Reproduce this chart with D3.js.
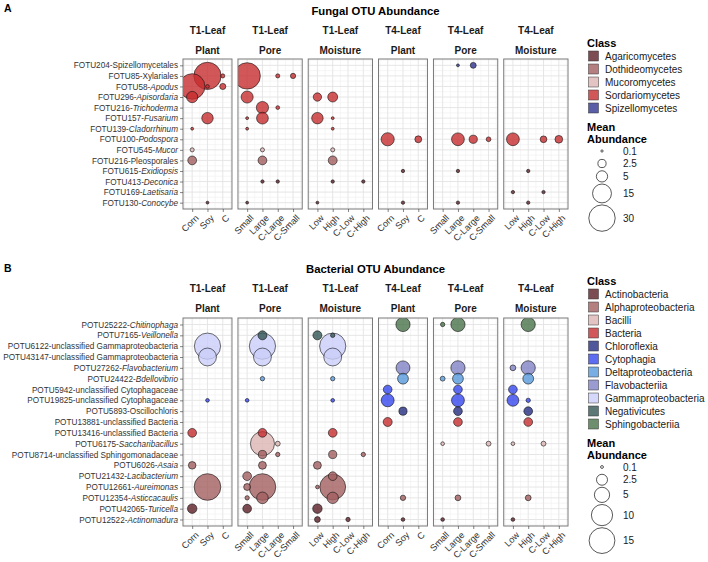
<!DOCTYPE html>
<html><head><meta charset="utf-8">
<script src="https://cdn.jsdelivr.net/npm/d3@7"></script>
<style>
body{margin:0;background:#fff;}
svg{font-family:"Liberation Sans",Arial,Helvetica,sans-serif;}
</style>
</head><body>
<svg id="c" width="708" height="562"></svg>
<script>
// ---------------- DATA ----------------
const plantLevels = ["Corn","Soy","C"];
const poreLevels = ["Small","Large","C-Large","C-Small"];
const moistureLevels = ["Low","High","C-Low","C-High"];
const timeLabels = ["T1-Leaf","T1-Leaf","T1-Leaf","T4-Leaf","T4-Leaf","T4-Leaf"];
const factorLabels = ["Plant","Pore","Moisture","Plant","Pore","Moisture"];
const facetLevels = [plantLevels, poreLevels, moistureLevels, plantLevels, poreLevels, moistureLevels];

// Fungal OTUs (top to bottom); italic flag marks genus names
const fungalOTUs = ["FOTU204-Spizellomycetales","FOTU85-Xylariales","FOTU58-Apodus","FOTU296-Apisordaria",
  "FOTU216-Trichoderma","FOTU157-Fusarium","FOTU139-Cladorrhinum","FOTU100-Podospora","FOTU545-Mucor",
  "FOTU216-Pleosporales","FOTU615-Exidiopsis","FOTU413-Deconica","FOTU169-Laetisaria","FOTU130-Conocybe"];
const fungalItalic = [false,false,true,true,true,true,true,true,true,false,true,true,true,true];
const fungalClassOf = ["Spizellomycetes","Sordariomycetes","Sordariomycetes","Sordariomycetes","Sordariomycetes",
  "Sordariomycetes","Sordariomycetes","Sordariomycetes","Mucoromycetes","Dothideomycetes","Agaricomycetes",
  "Agaricomycetes","Agaricomycetes","Agaricomycetes"];
const fungalClasses = ["Agaricomycetes","Dothideomycetes","Mucoromycetes","Sordariomycetes","Spizellomycetes"];
const fungalColors = ["#5d1f27","#a25f60","#ddb4b4","#c72d2e","#313690"];
const fungalSizeBreaks = [0.1,2.5,5,15,30];

const fungalT1Plant = [["FOTU85-Xylariales","Soy",32],["FOTU85-Xylariales","C",0.5],["FOTU58-Apodus","Corn",28],
  ["FOTU58-Apodus","Soy",0.4],["FOTU58-Apodus","C",1.3],["FOTU296-Apisordaria","Corn",5],["FOTU157-Fusarium","Soy",5.2],
  ["FOTU139-Cladorrhinum","Corn",0.2],["FOTU545-Mucor","Corn",0.5],["FOTU216-Pleosporales","Corn",2.9],
  ["FOTU130-Conocybe","Soy",0.2]];
const fungalT1Pore = [["FOTU85-Xylariales","Small",30],["FOTU85-Xylariales","C-Large",0.5],["FOTU85-Xylariales","C-Small",0.9],
  ["FOTU296-Apisordaria","Small",5.8],["FOTU216-Trichoderma","Large",6],["FOTU216-Trichoderma","C-Large",0.4],
  ["FOTU157-Fusarium","Small",0.2],["FOTU157-Fusarium","Large",5.5],["FOTU139-Cladorrhinum","Small",0.2],
  ["FOTU545-Mucor","Large",0.5],["FOTU216-Pleosporales","Large",2.9],["FOTU413-Deconica","Large",0.3],
  ["FOTU413-Deconica","C-Large",0.3],["FOTU130-Conocybe","Small",0.2]];
const fungalT1Moisture = [["FOTU296-Apisordaria","Low",2.6],["FOTU296-Apisordaria","High",3.8],["FOTU157-Fusarium","Low",5.2],
  ["FOTU157-Fusarium","High",0.2],["FOTU139-Cladorrhinum","High",0.2],["FOTU545-Mucor","High",0.5],
  ["FOTU216-Pleosporales","High",3],["FOTU413-Deconica","High",0.3],["FOTU413-Deconica","C-High",0.3],
  ["FOTU130-Conocybe","Low",0.2]];
const fungalT4Plant = [["FOTU100-Podospora","Corn",7],["FOTU100-Podospora","C",1.7],["FOTU615-Exidiopsis","Soy",0.3],
  ["FOTU130-Conocybe","Soy",0.3]];
const fungalT4Pore = [["FOTU204-Spizellomycetales","Large",0.2],["FOTU204-Spizellomycetales","C-Large",1.2],
  ["FOTU100-Podospora","Large",6.6],["FOTU100-Podospora","C-Large",2.5],["FOTU100-Podospora","C-Small",0.7],
  ["FOTU615-Exidiopsis","Large",0.3],["FOTU130-Conocybe","Large",0.3]];
const fungalT4Moisture = [["FOTU100-Podospora","Low",6.6],["FOTU100-Podospora","C-Low",1.6],["FOTU100-Podospora","C-High",2.2],
  ["FOTU615-Exidiopsis","High",0.3],["FOTU169-Laetisaria","Low",0.3],["FOTU169-Laetisaria","C-Low",0.3],
  ["FOTU130-Conocybe","High",0.3]];

// Bacterial OTUs
const bactOTUs = ["POTU25222-Chitinophaga","POTU7165-Veillonella","POTU6122-unclassified Gammaproteobacteria",
  "POTU43147-unclassified Gammaproteobacteria","POTU27262-Flavobacterium","POTU24422-Bdellovibrio",
  "POTU5942-unclassified Cytophagaceae","POTU19825-unclassified Cytophagaceae","POTU5893-Oscillochloris",
  "POTU13881-unclassified Bacteria","POTU13416-unclassified Bacteria","POTU6175-Saccharibacillus",
  "POTU8714-unclassified Sphingomonadaceae","POTU6026-Asaia","POTU21432-Lacibacterium","POTU12661-Aureimonas",
  "POTU12354-Asticcacaulis","POTU42065-Turicella","POTU12522-Actinomadura"];
const bactItalic = [true,true,false,false,true,true,false,false,false,false,false,true,false,true,true,true,true,true,true];
const bactClassOf = ["Sphingobacteriia","Negativicutes","Gammaproteobacteria","Gammaproteobacteria","Flavobacteriia",
  "Deltaproteobacteria","Cytophagia","Cytophagia","Chloroflexia","Bacteria","Bacteria","Bacilli",
  "Alphaproteobacteria","Alphaproteobacteria","Alphaproteobacteria","Alphaproteobacteria","Alphaproteobacteria",
  "Actinobacteria","Actinobacteria"];
const bactClasses = ["Actinobacteria","Alphaproteobacteria","Bacilli","Bacteria","Chloroflexia","Cytophagia",
  "Deltaproteobacteria","Flavobacteriia","Gammaproteobacteria","Negativicutes","Sphingobacteriia"];
const bactColors = ["#5d1f27","#a25f60","#ddb4b4","#c72d2e","#242d81","#3647ef","#569adc","#8182c4","#caceF9","#325554","#4a734a"];
const bactSizeBreaks = [0.1,2.5,5,10,15];

const bactT1Plant = [["POTU6122-unclassified Gammaproteobacteria","Soy",15.5],["POTU43147-unclassified Gammaproteobacteria","Soy",7],
  ["POTU19825-unclassified Cytophagaceae","Soy",0.2],["POTU13416-unclassified Bacteria","Corn",1.5],
  ["POTU6026-Asaia","Corn",1.1],["POTU12661-Aureimonas","Soy",16],["POTU42065-Turicella","Corn",1.8]];
const bactT1Pore = [["POTU7165-Veillonella","Large",1.6],["POTU6122-unclassified Gammaproteobacteria","Large",15.5],
  ["POTU43147-unclassified Gammaproteobacteria","Large",7],["POTU24422-Bdellovibrio","Large",0.3],
  ["POTU19825-unclassified Cytophagaceae","Small",0.2],["POTU13416-unclassified Bacteria","Large",1.5],
  ["POTU6175-Saccharibacillus","Large",13],["POTU6175-Saccharibacillus","C-Large",0.4],
  ["POTU8714-unclassified Sphingomonadaceae","Large",1.3],["POTU8714-unclassified Sphingomonadaceae","C-Large",0.3],
  ["POTU6026-Asaia","Large",1.2],["POTU21432-Lacibacterium","Small",1.5],["POTU12661-Aureimonas","Small",0.9],
  ["POTU12661-Aureimonas","Large",16],["POTU12354-Asticcacaulis","Small",0.3],["POTU12354-Asticcacaulis","Large",2.8],
  ["POTU42065-Turicella","Small",1.5]];
const bactT1Moisture = [["POTU7165-Veillonella","Low",1.6],["POTU7165-Veillonella","High",0.3],
  ["POTU6122-unclassified Gammaproteobacteria","High",15.5],["POTU43147-unclassified Gammaproteobacteria","High",7],
  ["POTU24422-Bdellovibrio","High",0.3],["POTU19825-unclassified Cytophagaceae","High",0.2],
  ["POTU13416-unclassified Bacteria","High",1.5],["POTU8714-unclassified Sphingomonadaceae","High",1.3],
  ["POTU8714-unclassified Sphingomonadaceae","C-High",0.3],["POTU6026-Asaia","Low",1.2],
  ["POTU21432-Lacibacterium","High",1.5],["POTU12661-Aureimonas","Low",0.2],["POTU12661-Aureimonas","High",15],
  ["POTU12354-Asticcacaulis","High",2.7],["POTU42065-Turicella","Low",1.8],["POTU12522-Actinomadura","Low",0.6],
  ["POTU12522-Actinomadura","C-Low",0.3]];
const bactT4Plant = [["POTU25222-Chitinophaga","Soy",4.3],["POTU27262-Flavobacterium","Soy",4.1],
  ["POTU24422-Bdellovibrio","Soy",2.4],["POTU5942-unclassified Cytophagaceae","Corn",1.5],
  ["POTU19825-unclassified Cytophagaceae","Corn",3.5],["POTU5893-Oscillochloris","Soy",1.3],
  ["POTU13881-unclassified Bacteria","Corn",1.6],["POTU12354-Asticcacaulis","Soy",0.5],["POTU12522-Actinomadura","Soy",0.2]];
const bactT4Pore = [["POTU25222-Chitinophaga","Small",0.3],["POTU25222-Chitinophaga","Large",4.3],
  ["POTU27262-Flavobacterium","Large",4.3],["POTU24422-Bdellovibrio","Small",0.4],["POTU24422-Bdellovibrio","Large",2.4],
  ["POTU5942-unclassified Cytophagaceae","Large",1.5],["POTU19825-unclassified Cytophagaceae","Large",3.5],
  ["POTU5893-Oscillochloris","Large",1.5],["POTU13881-unclassified Bacteria","Large",1.5],
  ["POTU6175-Saccharibacillus","Small",0.2],["POTU6175-Saccharibacillus","C-Small",0.4],
  ["POTU12354-Asticcacaulis","Large",0.6],["POTU12522-Actinomadura","Small",0.2]];
const bactT4Moisture = [["POTU25222-Chitinophaga","High",4.3],["POTU27262-Flavobacterium","Low",0.6],
  ["POTU27262-Flavobacterium","High",4.3],["POTU24422-Bdellovibrio","High",2.4],
  ["POTU5942-unclassified Cytophagaceae","Low",1.5],["POTU19825-unclassified Cytophagaceae","Low",2.9],
  ["POTU19825-unclassified Cytophagaceae","High",0.3],["POTU5893-Oscillochloris","High",1.5],
  ["POTU13881-unclassified Bacteria","High",1.5],["POTU6175-Saccharibacillus","Low",0.2],
  ["POTU6175-Saccharibacillus","C-Low",0.4],["POTU12354-Asticcacaulis","High",0.6],["POTU12522-Actinomadura","Low",0.2]];

// ---------------- DRAWING ----------------
const svg = d3.select("#c");
svg.append("rect").attr("width",708).attr("height",562).attr("fill","#fff");
const layout = {left:183, right:568, gap:6};
const units = facetLevels.map(l => l.length - 1 + 1.2);
const unit = (layout.right - layout.left - layout.gap*5) / d3.sum(units);
let cursor = layout.left;
const facetX = units.map(n => { const a = cursor; cursor += n*unit + layout.gap; return [a, a + n*unit]; });
let clipId = 0;

function drawChart(o) {
  const g = svg.append("g");
  const y = d3.scalePoint().domain(o.otus).range([o.top, o.bottom]).padding(0.6);
  const r = d3.scaleSqrt().domain([0, o.sizeMax]).range([0, o.rMax]);
  const color = d3.scaleOrdinal().domain(o.classes).range(o.colors);
  const classOf = new Map(o.otus.map((d,i) => [d, o.classOf[i]]));

  // tag and title
  g.append("text").attr("x",4).attr("y",o.tagY).attr("font-size",10.5).attr("font-weight","bold").text(o.tag);
  g.append("text").attr("x",(layout.left+layout.right)/2).attr("y",o.titleY).attr("text-anchor","middle")
    .attr("font-size",11.3).attr("font-weight","bold").text(o.title);

  o.facets.forEach((data, f) => {
    const [x0, x1] = facetX[f];
    const x = d3.scalePoint().domain(facetLevels[f]).range([x0, x1]).padding(0.6);
    const pg = g.append("g");
    pg.append("rect").attr("x",x0).attr("y",o.top).attr("width",x1-x0).attr("height",o.bottom-o.top).attr("fill","#fff");
    // minor grid
    const sx = x.step(), sy = y.step();
    for (let i = 0; i <= facetLevels[f].length; i++) {
      const xv = x(facetLevels[f][0]) + (i - 0.5)*sx;
      pg.append("line").attr("x1",xv).attr("x2",xv).attr("y1",o.top).attr("y2",o.bottom).attr("stroke","#f0f0f0").attr("stroke-width",0.6);
    }
    for (let i = 0; i <= o.otus.length; i++) {
      const yv = y(o.otus[0]) + (i - 0.5)*sy;
      pg.append("line").attr("x1",x0).attr("x2",x1).attr("y1",yv).attr("y2",yv).attr("stroke","#f0f0f0").attr("stroke-width",0.6);
    }
    // major grid
    facetLevels[f].forEach(l => pg.append("line").attr("x1",x(l)).attr("x2",x(l)).attr("y1",o.top).attr("y2",o.bottom)
      .attr("stroke","#e3e3e3").attr("stroke-width",0.9));
    o.otus.forEach(t => pg.append("line").attr("x1",x0).attr("x2",x1).attr("y1",y(t)).attr("y2",y(t))
      .attr("stroke","#e3e3e3").attr("stroke-width",0.9));
    // points
    const cid = "clip" + (clipId++);
    pg.append("clipPath").attr("id",cid).append("rect").attr("x",x0).attr("y",o.top).attr("width",x1-x0).attr("height",o.bottom-o.top);
    const sorted = data.slice().sort((a,b) => b[2]-a[2]);
    pg.append("g").attr("clip-path",`url(#${cid})`).selectAll("circle").data(sorted).join("circle")
      .attr("cx", d => x(d[1])).attr("cy", d => y(d[0])).attr("r", d => r(d[2]) + 0.4)
      .attr("fill", d => color(classOf.get(d[0]))).attr("fill-opacity",0.8)
      .attr("stroke","#111").attr("stroke-width",0.6);
    // border
    pg.append("rect").attr("x",x0).attr("y",o.top).attr("width",x1-x0).attr("height",o.bottom-o.top)
      .attr("fill","none").attr("stroke","#7a7a7a").attr("stroke-width",1);
    // strips
    const cx = (x0+x1)/2;
    g.append("text").attr("x",cx).attr("y",o.stripY1).attr("text-anchor","middle").attr("font-size",10)
      .attr("font-weight","bold").attr("fill","#1a1a1a").text(timeLabels[f]);
    g.append("text").attr("x",cx).attr("y",o.stripY2).attr("text-anchor","middle").attr("font-size",10)
      .attr("font-weight","bold").attr("fill","#1a1a1a").text(factorLabels[f]);
    // x axis
    const ax = g.append("g").attr("transform",`translate(0,${o.bottom})`)
      .call(d3.axisBottom(x).tickSize(3).tickSizeOuter(0));
    ax.select(".domain").remove();
    ax.selectAll(".tick line").attr("stroke","#333").attr("stroke-width",0.6);
    ax.selectAll(".tick text").attr("font-size",9.1).attr("fill","#333").attr("font-family",null)
      .attr("text-anchor","end").attr("y",0).attr("dy","0.71em")
      .attr("transform","translate(2,5) rotate(-45)");
  });

  // y axis
  const ay = g.append("g").attr("transform",`translate(${layout.left},0)`)
    .call(d3.axisLeft(y).tickSize(3).tickPadding(2).tickSizeOuter(0));
  ay.select(".domain").remove();
  ay.selectAll(".tick line").attr("stroke","#333").attr("stroke-width",0.6);
  ay.selectAll(".tick text").attr("font-size",8.2).attr("fill","#333").attr("font-family",null)
    .each(function(d) {
      const i = o.otus.indexOf(d);
      const k = d.indexOf("-");
      const t = d3.select(this).text(null);
      t.append("tspan").text(d.slice(0, k+1));
      t.append("tspan").attr("font-style", o.italic[i] ? "italic" : null).text(d.slice(k+1));
    });

  // class legend
  const lg = g.append("g");
  lg.append("text").attr("x",587).attr("y",o.legendTop).attr("font-size",11).attr("font-weight","bold").text("Class");
  o.classes.forEach((c,i) => {
    const cy = o.legendTop + 9 + i*13;
    lg.append("rect").attr("x",588.5).attr("y",cy-5).attr("width",10).attr("height",10)
      .attr("fill",color(c)).attr("fill-opacity",0.8).attr("stroke","#333").attr("stroke-width",0.5);
    lg.append("text").attr("x",605).attr("y",cy+3.6).attr("font-size",10).attr("fill","#1a1a1a").text(c);
  });
  // size legend
  const sTop = o.legendTop + 9 + (o.classes.length-1)*13 + 19;
  lg.append("text").attr("x",587).attr("y",sTop+4).attr("font-size",11).attr("font-weight","bold").text("Mean");
  lg.append("text").attr("x",587).attr("y",sTop+16).attr("font-size",11).attr("font-weight","bold").text("Abundance");
  const hs = o.sizeBreaks.map(b => Math.max(12.5, 2*(r(b)+0.4) + 2));
  let yy = sTop + 24 - hs[0]/2;
  o.sizeBreaks.forEach((b,i) => {
    const rr = r(b) + 0.4;
    const cy = yy + hs[i]/2;
    lg.append("circle").attr("cx",602).attr("cy",cy).attr("r",rr).attr("fill","#fff").attr("stroke","#111").attr("stroke-width",0.7);
    lg.append("text").attr("x",623).attr("y",cy+3.6).attr("font-size",10).attr("fill","#1a1a1a").text(b);
    yy += hs[i];
  });
}

drawChart({
  top:59, bottom:209, tag:"A", tagY:12, title:"Fungal OTU Abundance", titleY:15, stripY1:34, stripY2:54,
  otus:fungalOTUs, italic:fungalItalic, classOf:fungalClassOf, classes:fungalClasses, colors:fungalColors,
  sizeMax:30, rMax:12.8, sizeBreaks:fungalSizeBreaks, legendTop:47,
  facets:[fungalT1Plant, fungalT1Pore, fungalT1Moisture, fungalT4Plant, fungalT4Pore, fungalT4Moisture]
});
drawChart({
  top:318, bottom:526, tag:"B", tagY:272, title:"Bacterial OTU Abundance", titleY:273, stripY1:292, stripY2:312,
  otus:bactOTUs, italic:bactItalic, classOf:bactClassOf, classes:bactClasses, colors:bactColors,
  sizeMax:15, rMax:12.5, sizeBreaks:bactSizeBreaks, legendTop:285,
  facets:[bactT1Plant, bactT1Pore, bactT1Moisture, bactT4Plant, bactT4Pore, bactT4Moisture]
});
</script>
</body></html>
